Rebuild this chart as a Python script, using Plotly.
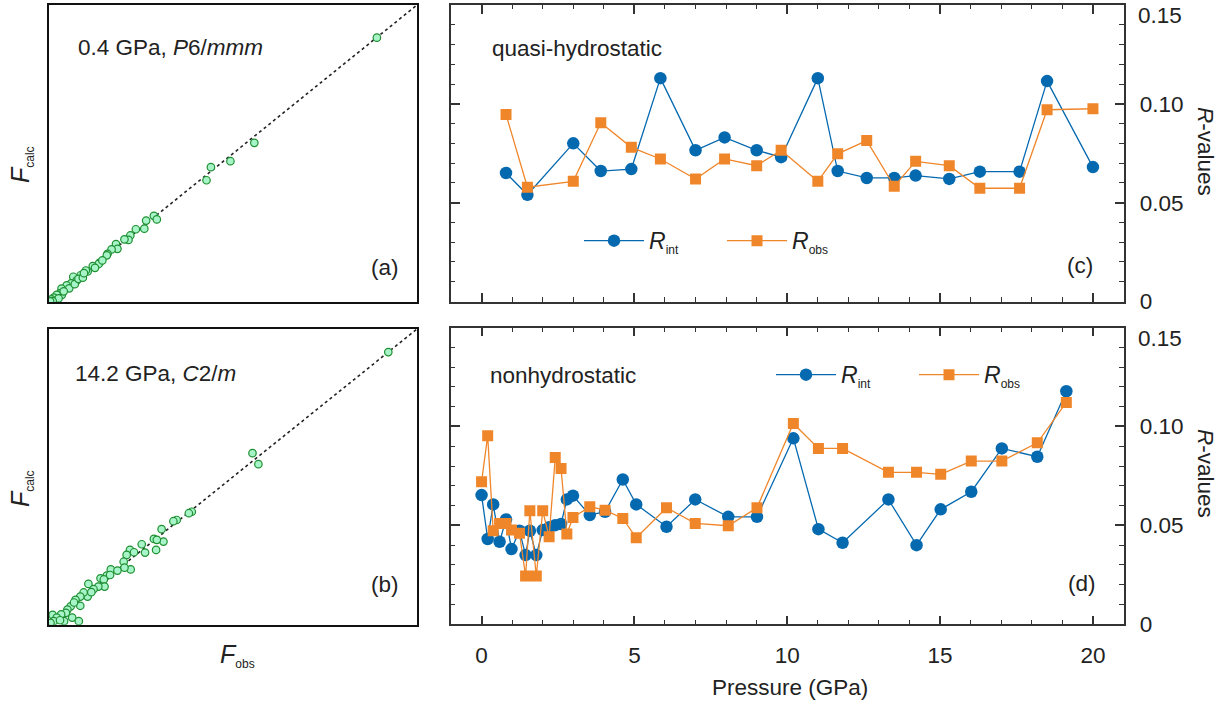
import plotly.graph_objects as go

# ---------------- data ----------------
# panel (a): 0.4 GPa, P6/mmm  (arbitrary units, 0..100)
Fobs_a = [89.1, 55.8, 49.3, 44.0, 42.8, 28.5, 29.3, 26.4, 25.9, 23.6, 22.1, 21.6, 20.5, 18.2, 18.6,
          17.0, 15.9, 15.7, 13.7, 13.5, 11.9, 10.5, 10.0, 8.6, 6.6, 7.5, 6.0, 4.8, 3.4, 3.0, 3.5, 2.1,
          1.3, 0.7, 5.5, 7.0, 8.0, 9.2, 4.0, 2.6, 1.0, 0.3, 12.5, 14.5, 9.5]
Fcalc_a = [89.0, 53.6, 47.4, 45.4, 41.0, 29.0, 27.8, 27.4, 24.7, 24.5, 22.4, 20.9, 21.1, 19.5, 17.9,
           17.7, 16.2, 15.7, 13.2, 12.8, 12.1, 10.3, 10.6, 9.0, 8.5, 7.2, 6.3, 5.6, 4.5, 2.9, 2.4, 2.4,
           1.5, 0.9, 4.6, 6.0, 7.8, 8.2, 3.6, 1.2, 0.3, 0.2, 11.5, 14.0, 9.7]

# panel (b): 14.2 GPa, C2/m
Fobs_b = [92.2, 55.3, 56.9, 38.8, 38.0, 34.7, 33.8, 30.6, 31.1, 28.5, 29.3, 29.1, 25.2, 26.1, 22.0,
          23.1, 21.1, 20.3, 22.2, 20.5, 16.8, 18.6, 15.7, 16.6, 14.0, 14.9, 15.1, 13.4, 10.7, 12.1,
          10.5, 9.4, 8.5, 7.2, 8.5, 5.9, 5.0, 4.6, 3.3, 1.0, 2.1, 6.3, 8.1, 4.1, 1.3, 0.4, 11.5, 6.8, 3.0]
Fcalc_b = [92.2, 58.0, 54.3, 38.2, 37.7, 35.4, 35.0, 32.3, 28.1, 29.0, 28.7, 25.3, 27.2, 24.4, 25.3,
           24.5, 23.6, 21.3, 18.7, 19.3, 18.7, 18.3, 16.6, 16.8, 15.7, 15.3, 12.9, 12.9, 13.8, 12.0,
           9.5, 10.9, 9.5, 8.4, 6.4, 6.2, 5.1, 4.0, 3.5, 3.3, 2.4, 2.4, 1.2, 1.2, 1.2, 0.6, 11.0, 7.5, 1.5]

identity_line = [0, 100]

# panel (c): quasi-hydrostatic
P_c = [0.8, 1.5, 3.0, 3.9, 4.9, 5.85, 7.0, 7.95, 9.0, 9.8, 11.0, 11.65, 12.6, 13.5, 14.2, 15.3,
       16.3, 17.6, 18.5, 20.0]
Rint_c = [0.065, 0.054, 0.080, 0.066, 0.067, 0.113, 0.0765, 0.083, 0.0765, 0.073, 0.113, 0.066,
          0.0625, 0.0625, 0.0637, 0.062, 0.0657, 0.0657, 0.1115, 0.068]
Robs_c = [0.0946, 0.0578, 0.0608, 0.0904, 0.078, 0.0721, 0.062, 0.0721, 0.0687, 0.0765, 0.0608,
          0.0747, 0.0814, 0.0583, 0.0709, 0.0687, 0.0573, 0.0573, 0.097, 0.0975]

# panel (d): nonhydrostatic
P_d = [0.0, 0.2, 0.38, 0.59, 0.8, 0.98, 1.24, 1.44, 1.58, 1.79, 2.0, 2.21, 2.41, 2.6, 2.79, 2.99,
       3.54, 4.04, 4.62, 5.06, 6.05, 6.99, 8.07, 9.01, 10.2, 11.02, 11.81, 13.31, 14.23, 15.02,
       16.02, 17.02, 18.18, 19.13]
Rint_d = [0.0653, 0.0431, 0.0606, 0.0417, 0.053, 0.038, 0.0473, 0.035, 0.0473, 0.035, 0.0476,
          0.049, 0.0501, 0.0507, 0.0631, 0.065, 0.0552, 0.0569, 0.0732, 0.0606, 0.0493, 0.0631,
          0.0543, 0.0543, 0.094, 0.0481, 0.0412, 0.0631, 0.040, 0.0581, 0.067, 0.0889, 0.0847, 0.1178]
Robs_d = [0.072, 0.0953, 0.0473, 0.051, 0.051, 0.0476, 0.046, 0.0244, 0.0574, 0.0244, 0.0574,
          0.0442, 0.0843, 0.0788, 0.0456, 0.054, 0.0594, 0.0577, 0.0535, 0.0437, 0.0589, 0.051,
          0.0498, 0.0589, 0.1015, 0.0889, 0.0889, 0.0768, 0.0768, 0.0758, 0.0825, 0.0825, 0.0917, 0.1121]

r_tickvals = [0, 0.05, 0.10, 0.15]
r_ticktext = ["0", "0.05", "0.10", ""]
r_top_label = "0.15"          # top tick label, drawn just inside the frame as in the original
p_tickvals = [0, 5, 10, 15, 20]

# ---------------- style ----------------
W, H = 1230, 704
FONT = "Liberation Sans, Arial, sans-serif"
FS = 22.5
TXT = "#222222"
BLUE = "#0569b0"
ORANGE = "#f0862a"
GFILL = "#a6f4c8"
GLINE = "#1f8f32"
AX = "#333333"


def px_x(a, b):
    return [a / W, b / W]


def px_y(top, bottom):
    return [1 - bottom / H, 1 - top / H]


fig = go.Figure()

# scatter panels
for xa, ya, fo, fc in [("x", "y", Fobs_a, Fcalc_a), ("x2", "y2", Fobs_b, Fcalc_b)]:
    fig.add_trace(go.Scatter(x=identity_line, y=identity_line, mode="lines", xaxis=xa, yaxis=ya,
                             line=dict(color="#222222", width=1.6, dash="dot"), showlegend=False,
                             hoverinfo="skip"))
    fig.add_trace(go.Scatter(x=fo, y=fc, mode="markers", xaxis=xa, yaxis=ya, showlegend=False,
                             marker=dict(size=7.5, color=GFILL, line=dict(color=GLINE, width=1.2))))

# R-value panels
for xa, ya, P, ri, ro, lg in [("x3", "y3", P_c, Rint_c, Robs_c, "legend"),
                              ("x4", "y4", P_d, Rint_d, Robs_d, "legend2")]:
    fig.add_trace(go.Scatter(x=P, y=ri, mode="lines+markers", xaxis=xa, yaxis=ya, legend=lg,
                             name="<i><span style='font-size:23px'>R</span></i><sub><span style='font-size:12px'>int</span></sub>",
                             line=dict(color=BLUE, width=1.3),
                             marker=dict(symbol="circle", size=12.5, color=BLUE)))
    fig.add_trace(go.Scatter(x=P, y=ro, mode="lines+markers", xaxis=xa, yaxis=ya, legend=lg,
                             name="<i><span style='font-size:23px'>R</span></i><sub><span style='font-size:12px'>obs</span></sub>",
                             line=dict(color=ORANGE, width=1.3),
                             marker=dict(symbol="square", size=11, color=ORANGE)))

box = dict(showline=True, mirror=True, linecolor="#111111", linewidth=1.6, ticks="",
           showticklabels=False, showgrid=False, zeroline=False, range=[0, 100])

common_r = dict(showline=True, mirror="allticks", linecolor=AX, linewidth=1.6, ticks="inside",
                ticklen=9, tickwidth=1.5, tickcolor=AX, showgrid=False, zeroline=False,
                tickfont=dict(family=FONT, size=FS, color=TXT))
minor_x = dict(ticks="inside", dtick=1, ticklen=4.5, tickwidth=1.3, tickcolor=AX)
minor_y = dict(ticks="inside", dtick=0.01, ticklen=4.5, tickwidth=1.3, tickcolor=AX)

layout = dict(
    width=W, height=H, autosize=False,
    margin=dict(l=0, r=0, t=0, b=0, autoexpand=False),
    paper_bgcolor="white", plot_bgcolor="white",
    font=dict(family=FONT, size=FS, color=TXT),
    xaxis=dict(box, domain=px_x(49, 417), anchor="y"),
    yaxis=dict(box, domain=px_y(5, 302), anchor="x"),
    xaxis2=dict(box, domain=px_x(49, 417), anchor="y2"),
    yaxis2=dict(box, domain=px_y(329, 624.7), anchor="x2"),
    xaxis3=dict(common_r, domain=px_x(451, 1123.5), anchor="y3", range=[-1, 21],
                tickvals=p_tickvals, showticklabels=False, minor=minor_x),
    yaxis3=dict(common_r, domain=px_y(5, 301.5), anchor="x3", range=[0, 0.15], side="right",
                tickvals=r_tickvals, ticktext=r_ticktext, ticklabelstandoff=10, minor=minor_y),
    xaxis4=dict(common_r, domain=px_x(451, 1123.5), anchor="y4", range=[-1, 21],
                tickvals=p_tickvals, ticklabelstandoff=10, minor=minor_x),
    yaxis4=dict(common_r, domain=px_y(327.5, 624.3), anchor="x4", range=[0, 0.15], side="right",
                tickvals=r_tickvals, ticktext=r_ticktext, ticklabelstandoff=10, minor=minor_y),
    legend=dict(x=579 / W, y=1 - 241 / H, xanchor="left", yanchor="middle", orientation="h",
                bgcolor="rgba(0,0,0,0)", font=dict(family=FONT, size=FS, color=TXT),
                itemwidth=60, entrywidthmode="pixels", entrywidth=68, tracegroupgap=0),
    legend2=dict(x=771 / W, y=1 - 375 / H, xanchor="left", yanchor="middle", orientation="h",
                 bgcolor="rgba(0,0,0,0)", font=dict(family=FONT, size=FS, color=TXT),
                 itemwidth=60, entrywidthmode="pixels", entrywidth=68, tracegroupgap=0),
)
fig.update_layout(**layout)


def ann(x, y, text, size=FS, xanchor="left", angle=0):
    fig.add_annotation(x=x / W, y=1 - y / H, xref="paper", yref="paper", text=text,
                       showarrow=False, xanchor=xanchor, yanchor="middle", textangle=angle,
                       font=dict(family=FONT, size=size, color=TXT))


ann(76, 48, "0.4 GPa, <i>P</i>6/<i>mmm</i>")
ann(73, 373, "14.2 GPa, <i>C</i>2/<i>m</i>")
ann(385, 267, "(a)", xanchor="center")
ann(385, 584, "(b)", xanchor="center")
ann(490, 49, "quasi-hydrostatic")
ann(488, 375, "nonhydrostatic")
ann(1080, 265, "(c)", xanchor="center")
ann(1082, 583, "(d)", xanchor="center")
ann(1136, 16, r_top_label)
ann(1136, 338, r_top_label)
ann(1206, 151, "<i>R</i>-values", xanchor="center", angle=90)
ann(1206, 473, "<i>R</i>-values", xanchor="center", angle=90)
ann(790, 687, "Pressure (GPa)", xanchor="center")
fsub = "<i><span style='font-size:25px'>F</span></i><sub><span style='font-size:12px'>%s</span></sub>"
ann(21, 165, fsub % "calc", xanchor="center", angle=-90)
ann(21, 489, fsub % "calc", xanchor="center", angle=-90)
ann(237, 655, fsub % "obs", xanchor="center")

fig.write_html("out.html")
